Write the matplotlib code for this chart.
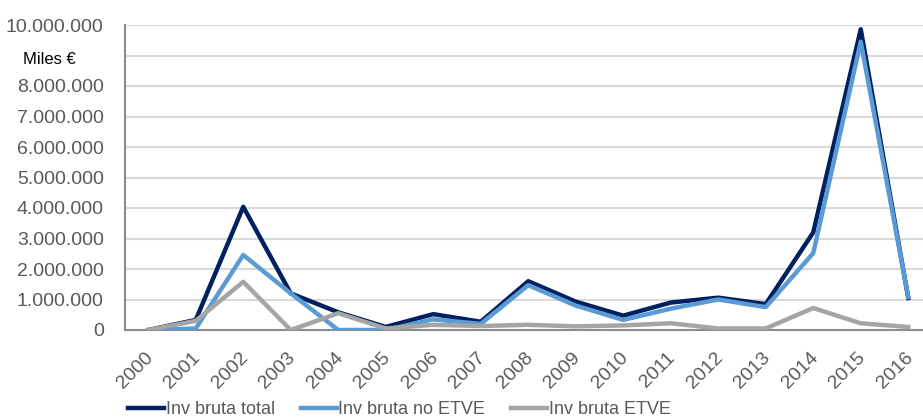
import numpy as np
import matplotlib.pyplot as plt
import matplotlib.transforms as mtransforms

years = [str(y) for y in range(2000, 2017)]
inv_total = [0, 330000, 4040000, 1200000, 580000, 100000, 520000, 270000,
             1600000, 930000, 470000, 900000, 1060000, 850000, 3200000, 9860000, 1050000]
inv_no_etve = [0, 50000, 2460000, 1200000, 0, 0, 350000, 200000,
               1470000, 800000, 330000, 700000, 1000000, 750000, 2520000, 9450000, 1080000]
inv_etve = [0, 300000, 1580000, 0, 550000, 50000, 170000, 130000,
            170000, 120000, 150000, 220000, 50000, 50000, 720000, 220000, 100000]

W, H = 923, 420
fig = plt.figure(figsize=(W / 100, H / 100), dpi=100)
ax = fig.add_axes([124.5 / W, 1 - 330 / H, 807.5 / W, 305 / H])

x = np.arange(len(years))
ax.plot(x, inv_total, color='#002060', lw=3.2, solid_joinstyle='round', label='Inv bruta total', zorder=3)
ax.plot(x, inv_no_etve, color='#5B9BD5', lw=3.2, solid_joinstyle='round', label='Inv bruta no ETVE', zorder=4)
ax.plot(x, inv_etve, color='#A5A5A5', lw=3.2, solid_joinstyle='round', label='Inv bruta ETVE', zorder=5)

ax.set_xlim(-0.5, len(years) - 0.5)
ax.set_ylim(0, 10000000)
yt = np.arange(0, 10000001, 1000000)
ax.set_yticks(yt)
ylabels = ['{:,}'.format(int(v)).replace(',', '.') for v in yt]
ylabels[9] = ''
ax.set_yticklabels(ylabels)
ax.set_xticks(x)
ax.set_xticklabels(years, rotation=45, ha='right', rotation_mode='anchor')

ax.tick_params(axis='both', length=0, labelsize=14, labelcolor='#595959', labelfontfamily='Liberation Sans')
ax.tick_params(axis='x', pad=14)
ax.tick_params(axis='y', pad=15)
shift = mtransforms.ScaledTranslation(-4 / 100, 0, fig.dpi_scale_trans)
for lab in ax.get_xticklabels():
    lab.set_transform(lab.get_transform() + shift)

ax.grid(axis='y', color='#D9D9D9', lw=1.5)
ax.set_axisbelow(True)
for s in ['top', 'right']:
    ax.spines[s].set_visible(False)
ax.spines['left'].set_color('#8C8C8C')
ax.spines['bottom'].set_color('#8C8C8C')
ax.spines['left'].set_linewidth(1.5)
ax.spines['bottom'].set_linewidth(1.5)

fig.text(23 / W, 1 - 60 / H, 'Miles €', fontsize=12, color='black', va='center', family='Liberation Sans')

fig.legend(loc='center left', bbox_to_anchor=(112 / W, 1 - 410 / H), ncol=3, frameon=False,
           prop={'family': 'Liberation Sans', 'size': 13},
           handlelength=2.0, handletextpad=0.1, columnspacing=1.4, labelcolor='#595959')

fig.savefig('out.png', dpi=100)
